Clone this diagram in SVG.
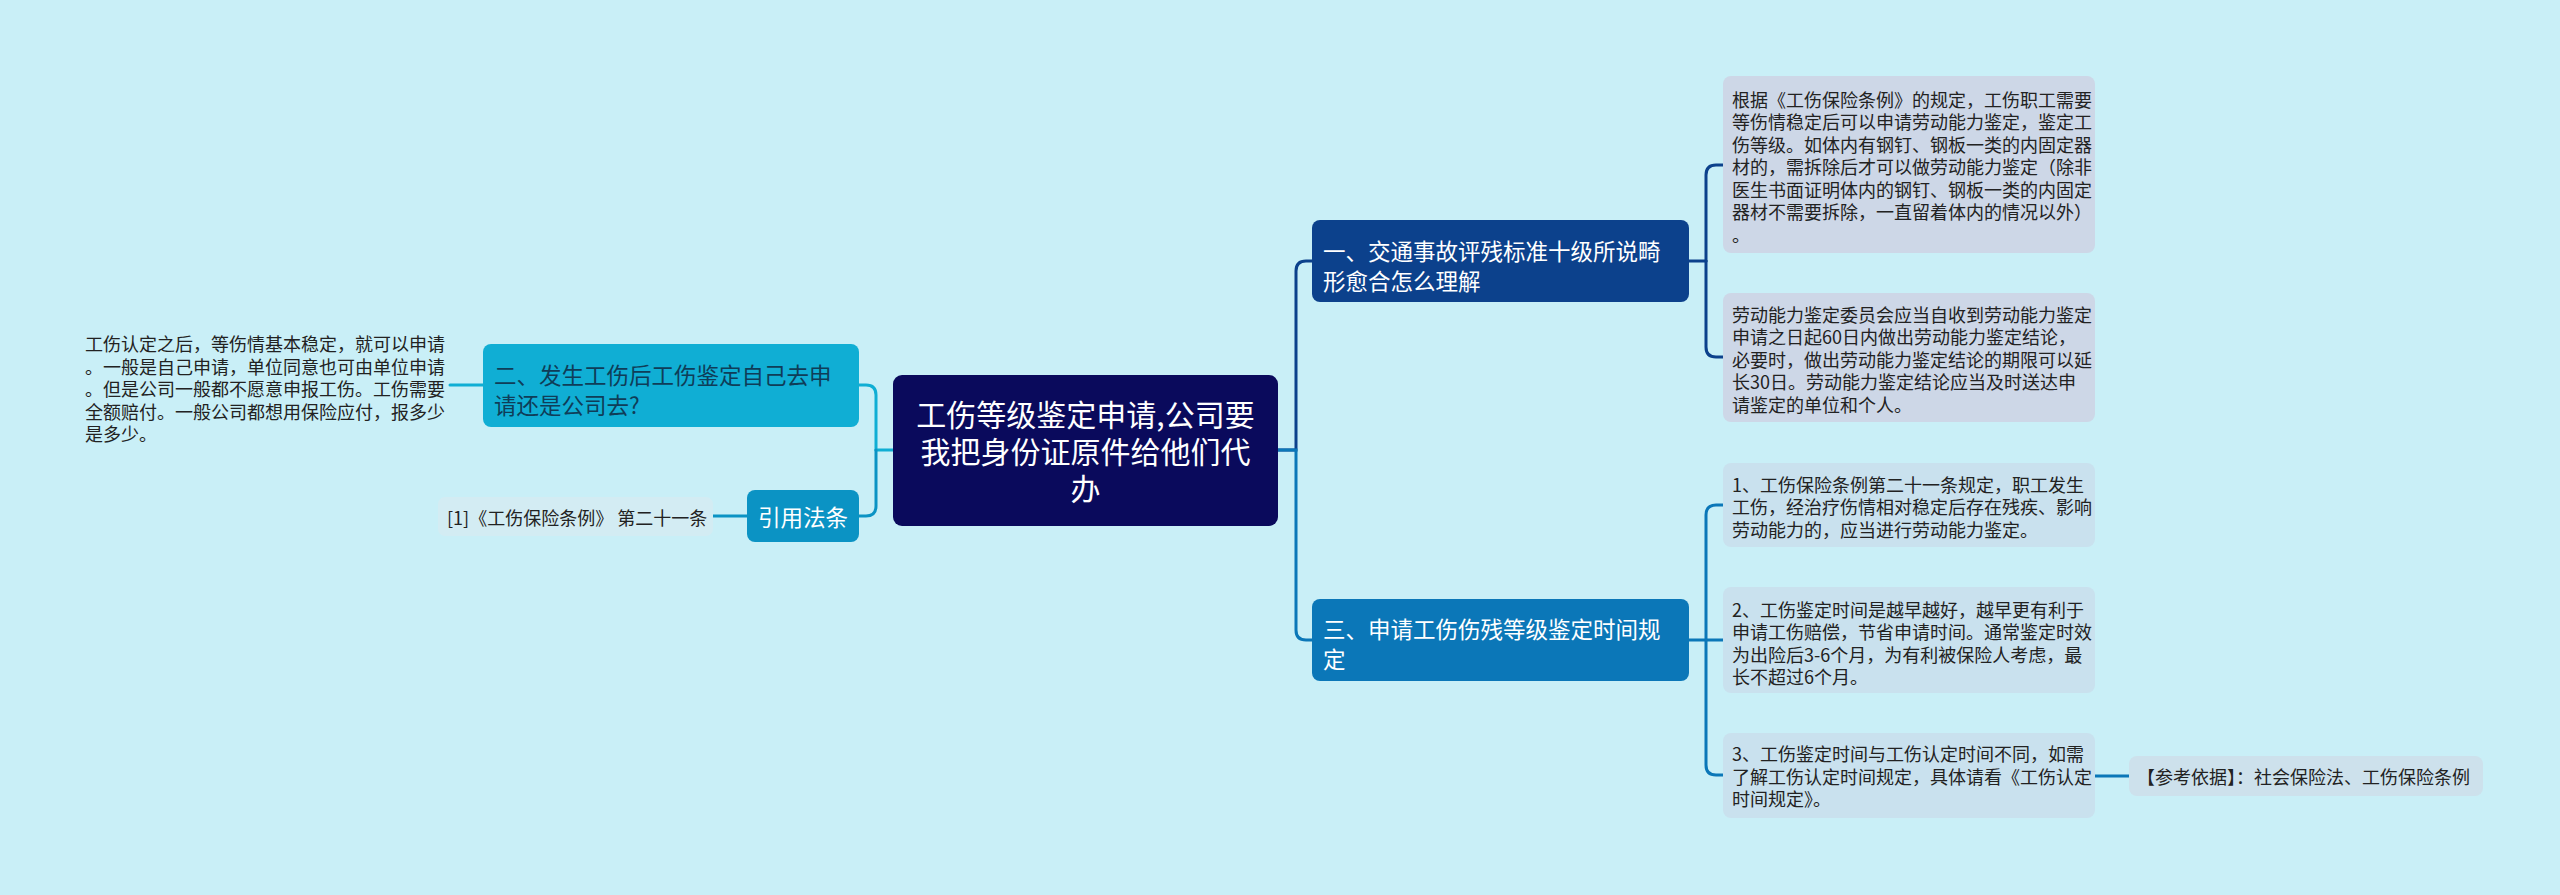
<svg xmlns="http://www.w3.org/2000/svg" width="2560" height="895" viewBox="0 0 2560 895">
<style>
  text { font-family: "Noto Sans CJK SC", "Noto Sans", sans-serif; dominant-baseline: central; }
  .root-t { font-size: 30px; fill: #ffffff; text-anchor: middle; }
  .main-t { font-size: 22.5px; fill: #ffffff; }
  .dark-t { font-size: 22.5px; fill: #0f3d58; }
  .leaf-t { font-size: 18px; fill: #222222; }
  .conn { fill: none; stroke-width: 3; stroke-linecap: round; }
</style>
<rect x="0" y="0" width="2560" height="895" fill="#c9eff7"/>

<g id="connectors">
  <!-- left of root -->
  <path class="conn" stroke="#10aed4" d="M893,450 H876"/>
  <path class="conn" stroke="#10aed4" d="M876,450 V395 Q876,385 866,385 H859"/>
  <path class="conn" stroke="#0b93c4" d="M876,450 V506 Q876,516 866,516 H859"/>
  <path class="conn" stroke="#10aed4" d="M483,385 H450"/>
  <path class="conn" stroke="#0b93c4" d="M747,516 H713"/>
  <!-- right of root -->
  <path class="conn" stroke="#0c418c" d="M1278,450 H1296 V271 Q1296,261 1306,261 H1312"/>
  <path class="conn" stroke="#0b77b8" d="M1278,450 H1296 V630 Q1296,640 1306,640 H1312"/>
  <!-- 一 children -->
  <path class="conn" stroke="#0c418c" d="M1689,261 H1706"/>
  <path class="conn" stroke="#0c418c" d="M1706,261 V175 Q1706,165 1716,165 H1723"/>
  <path class="conn" stroke="#0c418c" d="M1706,261 V347 Q1706,357 1716,357 H1723"/>
  <!-- 三 children -->
  <path class="conn" stroke="#0b77b8" d="M1689,640 H1723"/>
  <path class="conn" stroke="#0b77b8" d="M1706,640 V515 Q1706,505 1716,505 H1723"/>
  <path class="conn" stroke="#0b77b8" d="M1706,640 V765 Q1706,775 1716,775 H1723"/>
  <path class="conn" stroke="#0b77b8" d="M2095,776 H2129"/>
</g>

<g id="root">
  <rect x="893" y="375" width="385" height="151" rx="9" fill="#0a0a5c"/>
  <text class="root-t" x="1085.5" y="413">工伤等级鉴定申请,公司要</text>
  <text class="root-t" x="1085.5" y="450">我把身份证原件给他们代</text>
  <text class="root-t" x="1085.5" y="487">办</text>
</g>

<g id="node-1">
  <rect x="1312" y="220" width="377" height="82" rx="8" fill="#0c418c"/>
  <text class="main-t" x="1323" y="250">一、交通事故评残标准十级所说畸</text>
  <text class="main-t" x="1323" y="280">形愈合怎么理解</text>
</g>

<g id="node-3">
  <rect x="1312" y="599" width="377" height="82" rx="8" fill="#0b77b8"/>
  <text class="main-t" x="1323" y="628">三、申请工伤伤残等级鉴定时间规</text>
  <text class="main-t" x="1323" y="658">定</text>
</g>

<g id="node-2">
  <rect x="483" y="344" width="376" height="83" rx="8" fill="#10aed4"/>
  <text class="dark-t" x="494" y="374">二、发生工伤后工伤鉴定自己去申</text>
  <text class="dark-t" x="494" y="404">请还是公司去?</text>
</g>

<g id="node-law">
  <rect x="747" y="490" width="112" height="52" rx="8" fill="#0b93c4"/>
  <text class="main-t" x="803" y="516" text-anchor="middle">引用法条</text>
</g>

<g id="leaf-2-text">
  <text class="leaf-t" x="85" y="343">工伤认定之后，等伤情基本稳定，就可以申请</text>
  <text class="leaf-t" x="85" y="365.5">。一般是自己申请，单位同意也可由单位申请</text>
  <text class="leaf-t" x="85" y="388">。但是公司一般都不愿意申报工伤。工伤需要</text>
  <text class="leaf-t" x="85" y="410.5">全额赔付。一般公司都想用保险应付，报多少</text>
  <text class="leaf-t" x="85" y="433">是多少。</text>
</g>

<g id="leaf-law">
  <rect x="438" y="497" width="275" height="39" rx="7" fill="#d3ecf3"/>
  <text class="leaf-t" x="447" y="517">[1]《工伤保险条例》 第二十一条</text>
</g>

<g id="leaf-1a">
  <rect x="1723" y="76" width="372" height="177" rx="8" fill="#cdd7e7"/>
  <text class="leaf-t" x="1732" y="98.5">根据《工伤保险条例》的规定，工伤职工需要</text>
  <text class="leaf-t" x="1732" y="121">等伤情稳定后可以申请劳动能力鉴定，鉴定工</text>
  <text class="leaf-t" x="1732" y="143.5">伤等级。如体内有钢钉、钢板一类的内固定器</text>
  <text class="leaf-t" x="1732" y="166">材的，需拆除后才可以做劳动能力鉴定（除非</text>
  <text class="leaf-t" x="1732" y="188.5">医生书面证明体内的钢钉、钢板一类的内固定</text>
  <text class="leaf-t" x="1732" y="211">器材不需要拆除，一直留着体内的情况以外）</text>
  <text class="leaf-t" x="1732" y="233.5">。</text>
</g>

<g id="leaf-1b">
  <rect x="1723" y="293" width="372" height="129" rx="8" fill="#cdd7e7"/>
  <text class="leaf-t" x="1732" y="313.5">劳动能力鉴定委员会应当自收到劳动能力鉴定</text>
  <text class="leaf-t" x="1732" y="336">申请之日起60日内做出劳动能力鉴定结论，</text>
  <text class="leaf-t" x="1732" y="358.5">必要时，做出劳动能力鉴定结论的期限可以延</text>
  <text class="leaf-t" x="1732" y="381">长30日。劳动能力鉴定结论应当及时送达申</text>
  <text class="leaf-t" x="1732" y="403.5">请鉴定的单位和个人。</text>
</g>

<g id="leaf-3a">
  <rect x="1723" y="463" width="372" height="84" rx="8" fill="#c9e1ee"/>
  <text class="leaf-t" x="1732" y="483.5">1、工伤保险条例第二十一条规定，职工发生</text>
  <text class="leaf-t" x="1732" y="506">工伤，经治疗伤情相对稳定后存在残疾、影响</text>
  <text class="leaf-t" x="1732" y="528.5">劳动能力的，应当进行劳动能力鉴定。</text>
</g>

<g id="leaf-3b">
  <rect x="1723" y="587" width="372" height="106" rx="8" fill="#c9e1ee"/>
  <text class="leaf-t" x="1732" y="608.5">2、工伤鉴定时间是越早越好，越早更有利于</text>
  <text class="leaf-t" x="1732" y="631">申请工伤赔偿，节省申请时间。通常鉴定时效</text>
  <text class="leaf-t" x="1732" y="653.5">为出险后3-6个月，为有利被保险人考虑，最</text>
  <text class="leaf-t" x="1732" y="676">长不超过6个月。</text>
</g>

<g id="leaf-3c">
  <rect x="1723" y="733" width="372" height="85" rx="8" fill="#c9e1ee"/>
  <text class="leaf-t" x="1732" y="753">3、工伤鉴定时间与工伤认定时间不同，如需</text>
  <text class="leaf-t" x="1732" y="775.5">了解工伤认定时间规定，具体请看《工伤认定</text>
  <text class="leaf-t" x="1732" y="798">时间规定》。</text>
</g>

<g id="leaf-3c-ref">
  <rect x="2129" y="756" width="354" height="40" rx="8" fill="#cde1ec"/>
  <text class="leaf-t" x="2137" y="776">【参考依据】：社会保险法、工伤保险条例</text>
</g>
</svg>
